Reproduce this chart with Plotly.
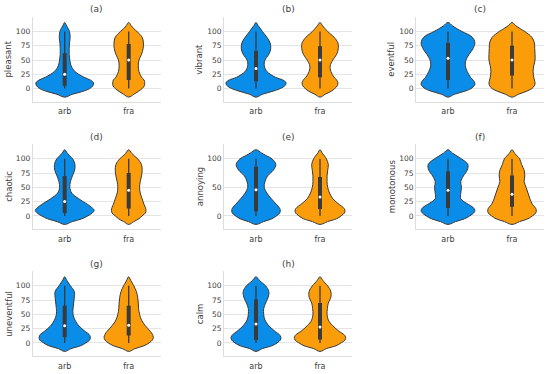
import plotly.graph_objects as go

# ---------------- data ----------------
groups = ["arb", "fra"]
panel_titles = ["(a)", "(b)", "(c)", "(d)", "(e)", "(f)", "(g)", "(h)"]
attributes = ["pleasant", "vibrant", "eventful", "chaotic", "annoying",
              "monotonous", "uneventful", "calm"]

# score levels at which the violin half-widths (density) were read
score_grid = [-15, -10, -5, 0, 5, 10, 15, 20, 30, 40, 50, 60, 70, 80, 90, 100, 105, 110, 116]

pleasant_arb = [0, 0.12, 0.28, 0.39, 0.44, 0.45, 0.40, 0.30, 0.16, 0.10, 0.08, 0.07, 0.07, 0.075, 0.085, 0.075, 0.055, 0.03, 0]
pleasant_fra = [0, 0.08, 0.15, 0.21, 0.245, 0.25, 0.24, 0.20, 0.16, 0.15, 0.16, 0.20, 0.225, 0.23, 0.21, 0.13, 0.08, 0.04, 0]
vibrant_arb = [0, 0.10, 0.25, 0.38, 0.45, 0.47, 0.42, 0.30, 0.17, 0.13, 0.14, 0.20, 0.23, 0.22, 0.17, 0.10, 0.07, 0.035, 0]
vibrant_fra = [0, 0.08, 0.17, 0.23, 0.27, 0.28, 0.26, 0.22, 0.17, 0.16, 0.20, 0.26, 0.285, 0.28, 0.22, 0.12, 0.08, 0.04, 0]
eventful_arb = [0, 0.10, 0.25, 0.36, 0.41, 0.42, 0.39, 0.35, 0.30, 0.27, 0.28, 0.33, 0.39, 0.42, 0.38, 0.22, 0.14, 0.07, 0]
eventful_fra = [0, 0.10, 0.22, 0.31, 0.35, 0.36, 0.35, 0.34, 0.33, 0.34, 0.36, 0.36, 0.355, 0.35, 0.31, 0.20, 0.13, 0.06, 0]
chaotic_arb = [0, 0.12, 0.27, 0.36, 0.43, 0.46, 0.42, 0.36, 0.22, 0.11, 0.08, 0.09, 0.12, 0.155, 0.16, 0.125, 0.08, 0.04, 0]
chaotic_fra = [0, 0.08, 0.16, 0.21, 0.26, 0.27, 0.26, 0.24, 0.21, 0.18, 0.17, 0.18, 0.20, 0.21, 0.20, 0.14, 0.09, 0.045, 0]
annoying_arb = [0, 0.12, 0.25, 0.32, 0.37, 0.38, 0.36, 0.32, 0.24, 0.17, 0.13, 0.14, 0.18, 0.27, 0.31, 0.25, 0.17, 0.09, 0]
annoying_fra = [0, 0.12, 0.26, 0.33, 0.38, 0.39, 0.36, 0.30, 0.20, 0.15, 0.12, 0.11, 0.11, 0.12, 0.13, 0.10, 0.07, 0.035, 0]
monotonous_arb = [0, 0.12, 0.26, 0.34, 0.40, 0.42, 0.39, 0.32, 0.20, 0.20, 0.21, 0.20, 0.24, 0.30, 0.31, 0.21, 0.14, 0.07, 0]
monotonous_fra = [0, 0.12, 0.25, 0.32, 0.37, 0.38, 0.36, 0.32, 0.28, 0.25, 0.22, 0.19, 0.20, 0.19, 0.15, 0.12, 0.08, 0.04, 0]
uneventful_arb = [0, 0.10, 0.25, 0.33, 0.39, 0.40, 0.38, 0.32, 0.22, 0.16, 0.13, 0.13, 0.14, 0.15, 0.15, 0.09, 0.06, 0.03, 0]
uneventful_fra = [0, 0.10, 0.24, 0.32, 0.37, 0.385, 0.37, 0.34, 0.26, 0.20, 0.17, 0.155, 0.15, 0.14, 0.12, 0.08, 0.055, 0.03, 0]
calm_arb = [0, 0.10, 0.25, 0.33, 0.38, 0.39, 0.36, 0.30, 0.20, 0.14, 0.12, 0.12, 0.15, 0.19, 0.20, 0.15, 0.10, 0.05, 0]
calm_fra = [0, 0.10, 0.25, 0.33, 0.39, 0.40, 0.37, 0.30, 0.20, 0.13, 0.11, 0.115, 0.13, 0.17, 0.17, 0.12, 0.08, 0.04, 0]

# box stats: [min, q1, median, q3, max]
pleasant_arb_box = [0, 5, 25, 62, 100]
pleasant_fra_box = [0, 15, 50, 78, 100]
vibrant_arb_box = [0, 13, 35, 66, 100]
vibrant_fra_box = [0, 20, 50, 74, 100]
eventful_arb_box = [0, 15, 53, 80, 100]
eventful_fra_box = [0, 23, 50, 75, 100]
chaotic_arb_box = [0, 5, 25, 70, 100]
chaotic_fra_box = [0, 13, 45, 75, 100]
annoying_arb_box = [0, 8, 46, 86, 100]
annoying_fra_box = [0, 12, 33, 68, 100]
monotonous_arb_box = [0, 14, 45, 78, 100]
monotonous_fra_box = [0, 16, 38, 71, 100]
uneventful_arb_box = [0, 10, 30, 65, 100]
uneventful_fra_box = [0, 13, 31, 65, 100]
calm_arb_box = [0, 5, 33, 76, 100]
calm_fra_box = [0, 6, 28, 70, 100]

y_ticks_default = [0, 25, 50, 75, 100]
y_ticks_annoying = [0, 50, 100]

densities = [
    (pleasant_arb, pleasant_fra), (vibrant_arb, vibrant_fra),
    (eventful_arb, eventful_fra), (chaotic_arb, chaotic_fra),
    (annoying_arb, annoying_fra), (monotonous_arb, monotonous_fra),
    (uneventful_arb, uneventful_fra), (calm_arb, calm_fra),
]
boxes = [
    (pleasant_arb_box, pleasant_fra_box), (vibrant_arb_box, vibrant_fra_box),
    (eventful_arb_box, eventful_fra_box), (chaotic_arb_box, chaotic_fra_box),
    (annoying_arb_box, annoying_fra_box), (monotonous_arb_box, monotonous_fra_box),
    (uneventful_arb_box, uneventful_fra_box), (calm_arb_box, calm_fra_box),
]

# ---------------- styling / layout ----------------
W, H = 550, 374
COLORS = ["#0a8de8", "#fb9d0a"]
EDGE = "#3a3a3a"
TEXT = "#3d3d3d"
FONT = "DejaVu Sans"
col_left = [32.7, 224.0, 416.0]
col_w = 128.0
row_top = [17.0, 144.3, 271.3]
row_h = 84.7

fig = go.Figure()
layout = dict(
    width=W, height=H, margin=dict(l=0, r=0, t=0, b=0),
    paper_bgcolor="white", plot_bgcolor="white", showlegend=False,
    font=dict(family=FONT, color=TEXT, size=8),
)
annotations = []

for i in range(8):
    r, c = divmod(i, 3)
    n = i + 1
    xa = "x" if n == 1 else f"x{n}"
    ya = "y" if n == 1 else f"y{n}"
    xkey = "xaxis" if n == 1 else f"xaxis{n}"
    ykey = "yaxis" if n == 1 else f"yaxis{n}"
    x0 = col_left[c] / W
    x1 = (col_left[c] + col_w) / W
    y1 = 1 - row_top[r] / H
    y0 = 1 - (row_top[r] + row_h) / H

    for g in range(2):
        w = densities[i][g]
        xs = [g + v for v in w] + [g - v for v in reversed(w[:-1])]
        ys = list(score_grid) + list(reversed(score_grid[:-1]))
        fig.add_trace(go.Scatter(
            x=xs, y=ys, xaxis=xa, yaxis=ya, mode="lines",
            line=dict(color=EDGE, width=1.0, shape="spline", smoothing=1.0),
            fill="toself", fillcolor=COLORS[g], hoverinfo="skip"))
        mn, q1, med, q3, mx = boxes[i][g]
        fig.add_trace(go.Scatter(
            x=[g, g], y=[mn, mx], xaxis=xa, yaxis=ya, mode="lines",
            line=dict(color=EDGE, width=1.3), hoverinfo="skip"))
        fig.add_trace(go.Scatter(
            x=[g, g], y=[q1, q3], xaxis=xa, yaxis=ya, mode="lines",
            line=dict(color=EDGE, width=4.0), hoverinfo="skip"))
        fig.add_trace(go.Scatter(
            x=[g], y=[med], xaxis=xa, yaxis=ya, mode="markers",
            marker=dict(color="white", size=3.0, line=dict(width=0)),
            hoverinfo="skip"))

    layout[xkey] = dict(
        domain=[x0, x1], anchor=ya, range=[-0.5, 1.5],
        tickmode="array", tickvals=[0, 1], ticktext=groups,
        showgrid=False, zeroline=False, showline=True, linecolor="#dddddd",
        linewidth=1, ticks="outside", ticklen=2, tickcolor="rgba(0,0,0,0)",
        tickfont=dict(size=8, color=TEXT, family=FONT), fixedrange=True)
    layout[ykey] = dict(
        domain=[y0, y1], anchor=xa, range=[-23, 125.5],
        tickmode="array",
        tickvals=y_ticks_annoying if attributes[i] == "annoying" else y_ticks_default,
        showgrid=True, gridcolor="#e4e4e4", gridwidth=1, zeroline=False,
        showline=True, linecolor="#dddddd", linewidth=1,
        ticks="", tickfont=dict(size=7.5, color=TEXT, family=FONT),
        fixedrange=True)

    # panel title
    annotations.append(dict(
        text=panel_titles[i], xref="paper", yref="paper",
        x=(col_left[c] + col_w / 2) / W, y=1 - (row_top[r] - 7.5) / H,
        xanchor="center", yanchor="middle", showarrow=False,
        font=dict(size=9, color=TEXT, family=FONT)))
    # y-axis label
    annotations.append(dict(
        text=attributes[i], xref="paper", yref="paper",
        x=(col_left[c] - 24.5) / W, y=1 - (row_top[r] + row_h / 2) / H,
        xanchor="center", yanchor="middle", showarrow=False, textangle=-90,
        font=dict(size=8.5, color=TEXT, family=FONT)))

layout["annotations"] = annotations
fig.update_layout(**layout)
fig.write_html("out.html",
               config={"displayModeBar": False, "staticPlot": True},
               post_script="document.body.style.margin='0';document.body.style.overflow='hidden';")
